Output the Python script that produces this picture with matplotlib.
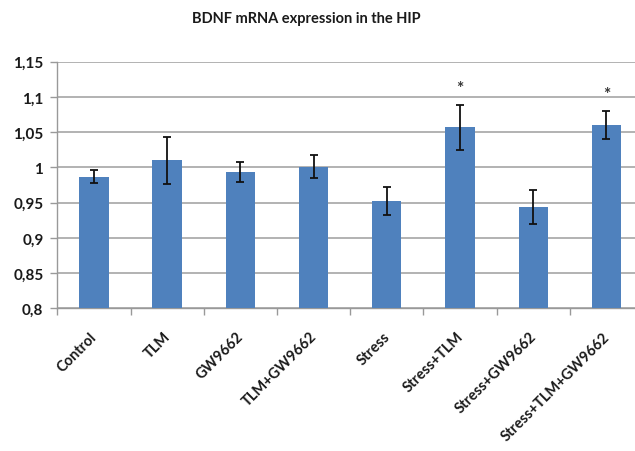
import matplotlib
matplotlib.use("Agg")
import matplotlib.pyplot as plt
import matplotlib.transforms as mtransforms
import numpy as np

categories = ["Control", "TLM", "GW9662", "TLM+GW9662", "Stress",
              "Stress+TLM", "Stress+GW9662", "Stress+TLM+GW9662"]
values = [0.987, 1.010, 0.993, 1.001, 0.952, 1.057, 0.944, 1.060]
errors = [0.009, 0.033, 0.014, 0.016, 0.020, 0.032, 0.024, 0.020]
star_idx = [5, 7]
star_y = [1.112, 1.104]
yticks = [0.8, 0.85, 0.9, 0.95, 1.0, 1.05, 1.1, 1.15]
ytick_labels = ["0,8", "0,85", "0,9", "0,95", "1", "1,05", "1,1", "1,15"]

plt.rcParams['font.family'] = ['Lato', 'DejaVu Sans']

fig = plt.figure(figsize=(6.35, 4.52), dpi=100)
ax = fig.add_axes([57.3/635, 1-309.3/452, 585.7/635, 246.6/452])

x = np.arange(len(categories))
ax.bar(x, values, width=0.4, color="#4F81BD", zorder=3)
ax.errorbar(x, values, yerr=errors, fmt='none', ecolor="#111111",
            elinewidth=1.3, capsize=3, capthick=1.3, zorder=4)
for i, yy in zip(star_idx, star_y):
    ax.text(i, yy, "*", ha='center', va='center', fontsize=12.5,
            color="#333333", fontweight='bold')

ax.set_xlim(-0.5, len(categories) - 0.5)
ax.set_ylim(0.8, 1.15)
ax.set_yticks(yticks)
ax.set_yticklabels(ytick_labels, fontsize=11, fontweight='bold', color="#1a1a1a")
ax.set_xticks(x)
ax.set_xticklabels(categories, rotation=45, ha='right', rotation_mode='anchor',
                   fontsize=10.5, fontweight='bold', color="#1a1a1a")
ax.tick_params(axis='x', which='major', length=0, pad=15)
ax.set_xticks(np.arange(len(categories)) - 0.5, minor=True)
ax.tick_params(axis='x', which='minor', length=5, color="#999999", width=1)
ax.tick_params(axis='y', length=5, color="#999999", width=1, pad=5)

offset = mtransforms.ScaledTranslation(-4/100, 0, fig.dpi_scale_trans)
for lbl in ax.get_xticklabels():
    lbl.set_transform(lbl.get_transform() + offset)

ax.grid(axis='y', color="#a6a6a6", linewidth=1.2, zorder=0)
for side in ['top', 'right']:
    ax.spines[side].set_visible(False)
for side in ['left', 'bottom']:
    ax.spines[side].set_color("#999999")
    ax.spines[side].set_linewidth(1.0)

fig.text(306.7/635, 1-19/452, "BDNF mRNA expression in the HIP",
         ha='center', va='center', fontsize=10.5, fontweight='bold', color="#1a1a1a")

fig.savefig("out.png", dpi=100)
